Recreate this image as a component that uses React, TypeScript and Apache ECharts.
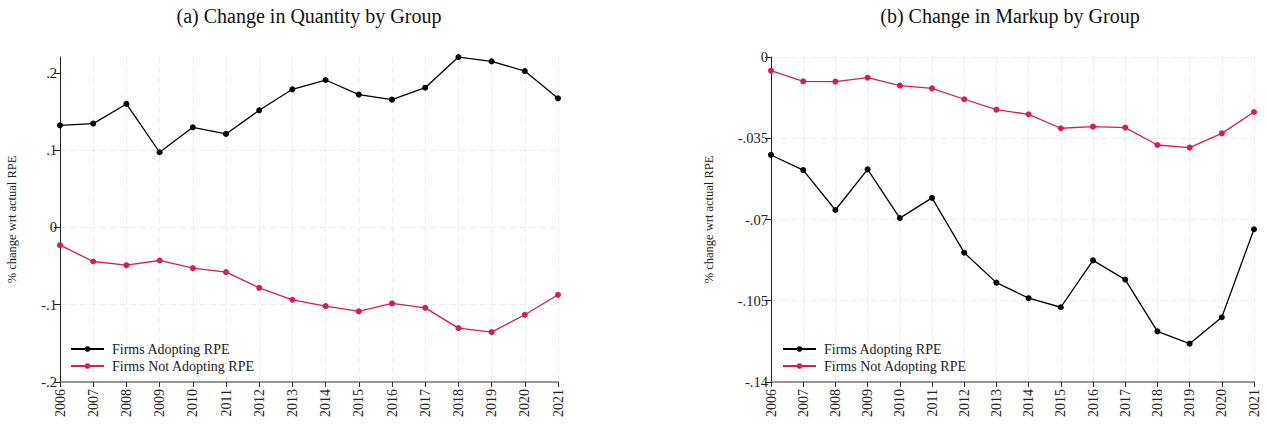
import React, { useEffect, useRef } from 'react';
import * as echarts from 'echarts';

const years = ['2006','2007','2008','2009','2010','2011','2012','2013','2014','2015','2016','2017','2018','2019','2020','2021'];
const qtyAdopting = [0.1323,0.1345,0.1599,0.0974,0.1297,0.1211,0.1517,0.1789,0.1909,0.172,0.1655,0.181,0.2206,0.215,0.2025,0.1672];
const qtyNotAdopting = [-0.0229,-0.044,-0.0488,-0.0427,-0.0526,-0.0578,-0.0781,-0.0936,-0.1018,-0.1086,-0.0983,-0.104,-0.1302,-0.1354,-0.113,-0.0871];
const markupAdopting = [-0.0422,-0.0487,-0.0659,-0.0484,-0.0694,-0.0607,-0.0843,-0.0972,-0.1039,-0.1078,-0.0876,-0.0959,-0.1182,-0.1235,-0.1121,-0.0742];
const markupNotAdopting = [-0.0059,-0.0105,-0.0106,-0.0089,-0.0123,-0.0135,-0.0182,-0.0227,-0.0247,-0.0307,-0.03,-0.0304,-0.0379,-0.039,-0.0329,-0.0237];
const qtyTicks = [-0.2, -0.1, 0, 0.1, 0.2];
const titles = ['(a) Change in Quantity by Group', '(b) Change in Markup by Group'];
const yName = '% change wrt actual RPE';
const names = ['Firms Adopting RPE', 'Firms Not Adopting RPE'];

const BLACK = '#000000';
const RED = '#d81b60';
const FONT = '"Liberation Serif", "DejaVu Serif", serif';

function fmt(v: number): string {
  const s = Number(v.toFixed(3)).toString();
  return s.replace(/^(-?)0\./, '$1.');
}

export default function App() {
  const ref = useRef<HTMLDivElement>(null);
  useEffect(() => {
    if (!ref.current) return;
    const chart = echarts.init(ref.current, undefined, { renderer: 'svg' });
    const grids = [
      { left: 60, right: 709, top: 57, bottom: 43 },
      { left: 771, right: 13, top: 57, bottom: 43 },
    ];
    const xAxis = [0, 1].map((i) => ({
      type: 'category',
      gridIndex: i,
      data: years,
      boundaryGap: false,
      axisLine: { onZero: false, lineStyle: { color: '#777', width: 1.5 } },
      axisTick: { show: true, length: 5, lineStyle: { color: '#333' } },
      axisLabel: { rotate: 90, fontFamily: FONT, fontSize: 14, color: '#222', margin: 7 },
      splitLine: { show: true, lineStyle: { color: '#ebebeb', type: [6, 4], width: 1 } },
    }));
    const yCommon = {
      type: 'value',
      name: yName,
      nameLocation: 'middle',
      nameTextStyle: { fontFamily: FONT, fontSize: 12.5, color: '#222' },
      axisLine: { show: true, lineStyle: { color: '#222', width: 1 } },
      axisTick: { show: true, length: 6, lineStyle: { color: '#222' } },
      splitLine: { show: true, lineStyle: { color: '#ebebeb', type: [6, 4], width: 1 } },
    };
    const yAxis = [
      {
        ...yCommon,
        gridIndex: 0,
        min: -0.2,
        max: 0.2207,
        interval: 0.1,
        nameGap: 42,
        axisTick: { ...yCommon.axisTick, customValues: qtyTicks },
        axisLabel: { customValues: qtyTicks, formatter: (v: number) => fmt(v), fontFamily: FONT, fontSize: 14.5, color: '#222', margin: 3 },
        splitLine: { ...yCommon.splitLine, showMaxLine: false },
      },
      {
        ...yCommon,
        gridIndex: 1,
        min: -0.14,
        max: 0,
        interval: 0.035,
        nameGap: 56,
        axisLabel: { formatter: (v: number) => fmt(v), fontFamily: FONT, fontSize: 14.5, color: '#222', margin: 3 },
      },
    ];
    const mk = (name: string, data: number[], color: string, idx: number) => ({
      type: 'line',
      name,
      data,
      xAxisIndex: idx,
      yAxisIndex: idx,
      symbol: 'circle',
      symbolSize: 6,
      lineStyle: { color, width: 1.3 },
      itemStyle: { color },
      z: name === names[0] ? 3 : 2,
    });
    const legendCommon = {
      orient: 'vertical',
      itemWidth: 33,
      itemHeight: 7,
      itemGap: 3,
      textStyle: { fontFamily: FONT, fontSize: 14, color: '#222', padding: [0, 0, 0, 3] },
      data: names,
      selectedMode: false,
    };
    chart.setOption({
      animation: false,
      backgroundColor: '#ffffff',
      grid: grids,
      xAxis,
      yAxis,
      legend: [
        { ...legendCommon, left: 65, top: 337 },
        { ...legendCommon, left: 777, top: 337 },
      ],
      graphic: [
        { type: 'text', x: 309, y: 6, style: { text: titles[0], fontFamily: FONT, fontSize: 20, fill: '#111', textAlign: 'center' } },
        { type: 'text', x: 1010, y: 6, style: { text: titles[1], fontFamily: FONT, fontSize: 20, fill: '#111', textAlign: 'center' } },
      ],
      series: [
        mk(names[0], qtyAdopting, BLACK, 0),
        mk(names[1], qtyNotAdopting, RED, 0),
        mk(names[0], markupAdopting, BLACK, 1),
        mk(names[1], markupNotAdopting, RED, 1),
      ],
    });
    return () => chart.dispose();
  }, []);
  return <div ref={ref} style={{ position: 'fixed', left: 0, top: 0, width: 1267, height: 425 }} />;
}
